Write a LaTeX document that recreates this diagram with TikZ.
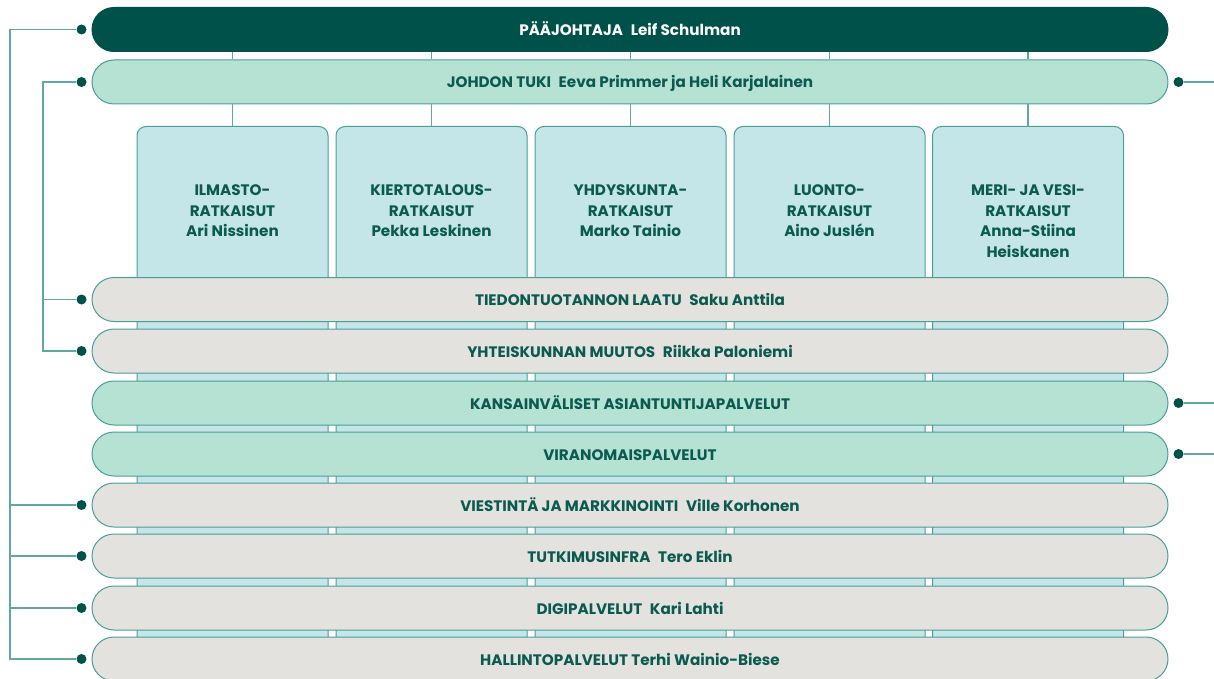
\documentclass[tikz,border=0pt]{standalone}
\usepackage{fontspec}
\setmainfont{Poppins}
\definecolor{deepgreen}{HTML}{00514A}
\definecolor{mint}{HTML}{B6E2D3}
\definecolor{stone}{HTML}{E3E2DE}
\definecolor{ice}{HTML}{C4E6E8}
\definecolor{rim}{HTML}{4A9E98}
\definecolor{linkcol}{HTML}{5FA9A3}
\definecolor{ink}{HTML}{0A5A50}
\begin{document}
\begin{tikzpicture}[x=1pt, y=-1pt,
    bar/.style={draw=rim, line width=1pt, rounded corners=22pt, minimum width=1076pt,
      minimum height=44pt, inner sep=0pt, text height=12pt, text depth=0pt, text=ink,
      font=\bfseries\fontsize{15.2}{17}\selectfont},
    unit/.style={draw=rim, line width=1pt, fill=ice, rounded corners=9pt, minimum width=191pt,
      minimum height=570pt, anchor=north},
    unitlabel/.style={anchor=north, align=center, text=ink, font=\bfseries\fontsize{15.2}{20.5}\selectfont},
    dot/.style={circle, fill=deepgreen, inner sep=0pt, minimum size=10pt},
    link/.style={draw=linkcol, line width=1.1pt}]
  \useasboundingbox (0,0) rectangle (1214,679);

  % the five units behind the bars
  \foreach \name/\x/\txt in {ilm/232.5/{ILMASTO-\\RATKAISUT\\Ari Nissinen},
      kie/431.5/{KIERTOTALOUS-\\RATKAISUT\\Pekka Leskinen},
      yhd/630.5/{YHDYSKUNTA-\\RATKAISUT\\Marko Tainio},
      luo/829.5/{LUONTO-\\RATKAISUT\\Aino Juslén},
      mer/1028/{MERI- JA VESI-\\RATKAISUT\\Anna-Stiina\\Heiskanen}} {
    \node[unit] (\name) at (\x,126) {};
    \node[unitlabel] (\name-txt) at (\x,181.5) {\txt};
  }

  % bars
  \node[bar, fill=deepgreen, draw=deepgreen, text=white] (chief) at (630,29.5) {PÄÄJOHTAJA\enspace Leif Schulman};
  \node[bar, fill=mint] (support) at (630,82) {JOHDON TUKI\enspace Eeva Primmer ja Heli Karjalainen};
  \node[bar, fill=stone] (quality) at (630,299.5) {TIEDONTUOTANNON LAATU\enspace Saku Anttila};
  \node[bar, fill=stone] (society) at (630,351) {YHTEISKUNNAN MUUTOS\enspace Riikka Paloniemi};
  \node[bar, fill=mint] (intl) at (630,403) {KANSAINVÄLISET ASIANTUNTIJAPALVELUT};
  \node[bar, fill=mint] (authority) at (630,454) {VIRANOMAISPALVELUT};
  \node[bar, fill=stone] (comms) at (630,505) {VIESTINTÄ JA MARKKINOINTI\enspace Ville Korhonen};
  \node[bar, fill=stone] (infra) at (630,556) {TUTKIMUSINFRA\enspace Tero Eklin};
  \node[bar, fill=stone] (digi) at (630,608) {DIGIPALVELUT\enspace Kari Lahti};
  \node[bar, fill=stone] (admin) at (630,659) {HALLINTOPALVELUT Terhi Wainio-Biese};

  % links down to the units
  \foreach \name in {ilm,kie,yhd,luo,mer} {
    \draw[link] (chief.south -| \name.north) -- (support.north -| \name.north);
    \draw[link] (support.south -| \name.north) -- (\name.north);
  }

  % dots
  \foreach \bar in {chief,support,quality,society,comms,infra,digi,admin}
    \node[dot] (\bar-dot) at ([xshift=-10pt]\bar.west) {};
  \foreach \bar in {support,intl,authority}
    \node[dot] (\bar-rdot) at ([xshift=10pt]\bar.east) {};

  % left side lines
  \coordinate (trunk) at (10,0);
  \coordinate (branch) at (43,0);
  \draw[link] (chief-dot) -| (trunk |- admin-dot) -- (admin-dot);
  \draw[link] (trunk |- comms-dot) -- (comms-dot);
  \draw[link] (trunk |- infra-dot) -- (infra-dot);
  \draw[link] (trunk |- digi-dot) -- (digi-dot);
  \draw[link] (support-dot) -| (branch |- society-dot) -- (society-dot);
  \draw[link] (branch |- quality-dot) -- (quality-dot);

  % right side lines
  \draw[link] (support-rdot) -- ++(40,0);
  \draw[link] (intl-rdot) -- ++(40,0);
  \draw[link] (authority-rdot) -- ++(40,0);
\end{tikzpicture}
\end{document}
